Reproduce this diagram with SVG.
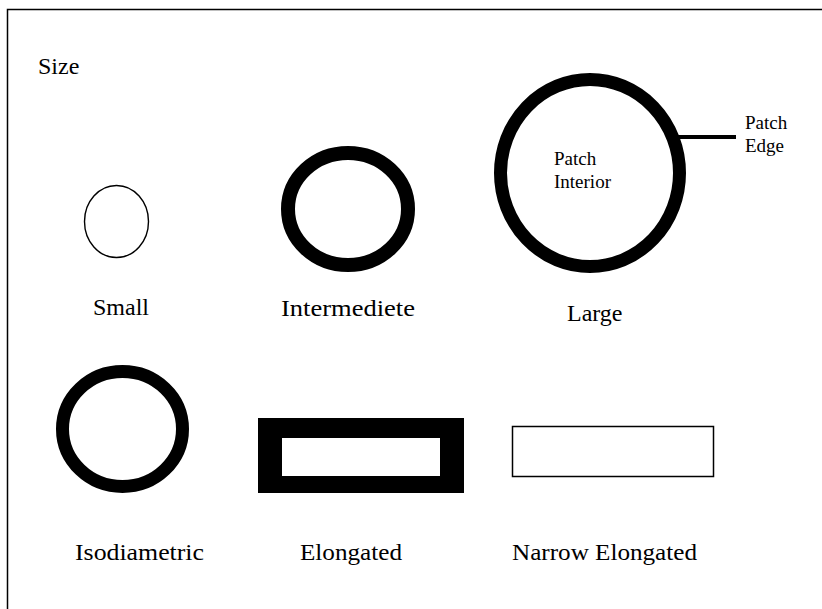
<svg xmlns="http://www.w3.org/2000/svg" width="822" height="609" viewBox="0 0 822 609">
<style>
text{font-family:'Liberation Serif','DejaVu Serif',serif;fill:#000}
.lbl{font-size:24px}
.sm{font-size:19px}
.ring{fill:none;stroke:#000}
</style>
<rect x="0" y="0" width="822" height="609" fill="#fff"/>
<rect id="frame" x="7.5" y="9.5" width="840" height="640" fill="none" stroke="#000" stroke-width="1.5"/>
<text class="lbl" x="38" y="74">Size</text>
<g id="small">
<ellipse class="ring" cx="116.5" cy="221.5" rx="32" ry="36" stroke-width="1.4"/>
<text class="lbl" x="93" y="315">Small</text>
</g>
<g id="intermediete">
<ellipse class="ring" cx="348" cy="209" rx="60" ry="56" stroke-width="14"/>
<text class="lbl" x="281" y="316" textLength="134" lengthAdjust="spacingAndGlyphs">Intermediete</text>
</g>
<g id="large">
<ellipse class="ring" cx="590" cy="173" rx="89.5" ry="93.5" stroke-width="13"/>
<text class="sm" x="554" y="165">Patch</text>
<text class="sm" x="554" y="188">Interior</text>
<text class="lbl" x="567" y="321">Large</text>
</g>
<g id="connectors">
<line x1="678" y1="137" x2="736" y2="137" stroke="#000" stroke-width="4"/>
</g>
<g id="patch-edge">
<text class="sm" x="745" y="129">Patch</text>
<text class="sm" x="745" y="152">Edge</text>
</g>
<g id="isodiametric">
<ellipse class="ring" cx="122.5" cy="429" rx="60" ry="57.5" stroke-width="13"/>
<text class="lbl" x="75" y="560" textLength="129" lengthAdjust="spacingAndGlyphs">Isodiametric</text>
</g>
<g id="elongated">
<path d="M258 418H464V493H258Z M282 438V476H440V438Z" fill="#000" fill-rule="evenodd"/>
<text class="lbl" x="300" y="560" textLength="102" lengthAdjust="spacingAndGlyphs">Elongated</text>
</g>
<g id="narrow-elongated">
<rect x="512.5" y="426.5" width="201" height="50" fill="none" stroke="#000" stroke-width="1.5"/>
<text class="lbl" x="512" y="560" textLength="185" lengthAdjust="spacingAndGlyphs">Narrow Elongated</text>
</g>
</svg>
